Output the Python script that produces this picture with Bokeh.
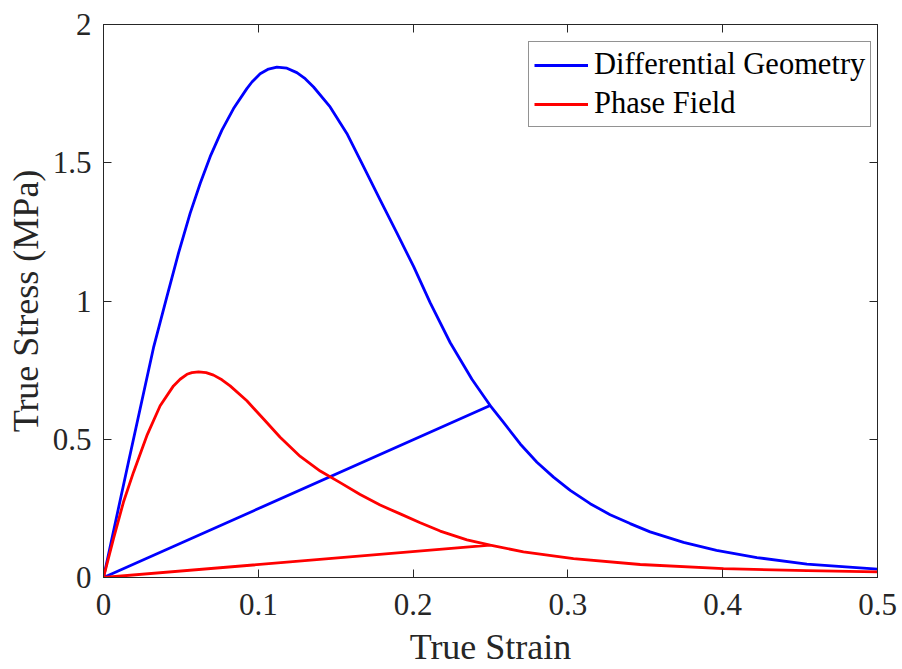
from bokeh.plotting import figure
from bokeh.models import (Range1d, LinearAxis, FixedTicker, Legend, LegendItem,
                          CustomLabelingPolicy)
from bokeh.embed import file_html
from bokeh.resources import INLINE

# ---- data ----
# Differential Geometry: loading curve; at index dg_unload_index the sample is
# unloaded to the origin and reloaded before the curve continues.
dg_strain = [0.0, 0.0161, 0.0323, 0.041, 0.0485, 0.056, 0.0625, 0.0689, 0.0765, 0.084,
             0.0926, 0.0959, 0.1012, 0.1066, 0.112, 0.1185, 0.1249, 0.1303, 0.1357, 0.1464,
             0.1572, 0.168, 0.1787, 0.1895, 0.2003, 0.211, 0.224, 0.238, 0.2498,
             0.2584, 0.2692, 0.280, 0.2907, 0.3015, 0.3144, 0.3273, 0.3402, 0.3531,
             0.3747, 0.396, 0.4221, 0.4544, 0.5]
dg_stress = [0.0, 0.417, 0.831, 1.017, 1.174, 1.318, 1.426, 1.522, 1.618, 1.696,
             1.768, 1.792, 1.822, 1.839, 1.846, 1.842, 1.826, 1.804, 1.774, 1.702,
             1.606, 1.486, 1.366, 1.246, 1.125, 0.994, 0.849, 0.717, 0.622,
             0.561, 0.483, 0.417, 0.363, 0.315, 0.267, 0.227, 0.195, 0.165,
             0.127, 0.098, 0.072, 0.048, 0.030]
dg_unload_index = 28

pf_strain = [0.0, 0.0065, 0.0129, 0.0194, 0.028, 0.0366, 0.0452, 0.0495, 0.0539, 0.0571,
             0.0614, 0.0663, 0.0711, 0.0765, 0.0818, 0.0926, 0.1034, 0.1141, 0.1271, 0.14,
             0.1529, 0.1658, 0.1787, 0.1917, 0.2046, 0.2175, 0.2348, 0.2498,
             0.2713, 0.3036, 0.3467, 0.4005, 0.4544, 0.5]
pf_stress = [0.0, 0.141, 0.273, 0.381, 0.513, 0.621, 0.693, 0.717, 0.735, 0.741,
             0.744, 0.741, 0.732, 0.715, 0.693, 0.639, 0.573, 0.507, 0.438, 0.385,
             0.343, 0.300, 0.262, 0.230, 0.198, 0.168, 0.136, 0.117,
             0.093, 0.068, 0.047, 0.032, 0.025, 0.020]
pf_unload_index = 27

x_ticks = [0, 0.1, 0.2, 0.3, 0.4, 0.5]
y_ticks = [0, 0.5, 1, 1.5, 2]
x_tick_labels = ["0", "0.1", "0.2", "0.3", "0.4", "0.5"]
y_tick_labels = ["0", "0.5", "1", "1.5", "2"]
x_label = "True Strain"
y_label = "True Stress (MPa)"
names = ["Differential Geometry", "Phase Field"]
colors = ["#0000FF", "#FF0000"]


def path(xs, ys, k):
    # loading curve up to index k, unload to origin, reload, continue
    px = xs[:k + 1] + [0.0, xs[k]] + xs[k + 1:]
    py = ys[:k + 1] + [0.0, ys[k]] + ys[k + 1:]
    return px, py


FONT = "Liberation Serif"
AX = "#262626"

p = figure(width=902, height=669, output_backend="svg", toolbar_location=None,
           x_range=Range1d(0, 0.5), y_range=Range1d(0, 2),
           min_border_left=103, min_border_right=25, min_border_top=24, min_border_bottom=90)
p.background_fill_color = "white"
p.border_fill_color = "white"
p.grid.visible = False
p.outline_line_color = AX
p.outline_line_width = 1

lines = []
for (xs, ys, k), c in zip([(dg_strain, dg_stress, dg_unload_index),
                           (pf_strain, pf_stress, pf_unload_index)], colors):
    px, py = path(xs, ys, k)
    r = p.line(px, py, line_color=c, line_width=2.8, line_join="round")
    lines.append(r)

no_labels = CustomLabelingPolicy(code="""
for (let i = 0; i < indices.size; i++) { indices.unset(i) }
return indices
""")


def style_axis(ax, ticks, labels=None):
    ax.ticker = FixedTicker(ticks=ticks)
    ax.axis_line_color = AX
    ax.axis_line_width = 1
    ax.major_tick_line_color = AX
    ax.major_tick_in = 8
    ax.major_tick_out = 0
    ax.minor_tick_line_color = None
    ax.major_label_text_font = FONT
    ax.major_label_text_color = AX
    ax.axis_label_text_font = FONT
    ax.axis_label_text_color = AX
    ax.axis_label_text_font_style = "normal"
    if labels is not None:
        ax.major_label_overrides = {t: s for t, s in zip(ticks, labels)}
        ax.major_label_text_font_size = "31px"
        ax.axis_label_text_font_size = "36px"
    else:
        ax.major_label_policy = no_labels
        ax.major_label_text_font_size = "10px"
        ax.major_label_standoff = 0


style_axis(p.xaxis[0], x_ticks, x_tick_labels)
style_axis(p.yaxis[0], y_ticks, y_tick_labels)
p.xaxis[0].axis_label = x_label
p.yaxis[0].axis_label = y_label
p.xaxis[0].major_label_standoff = 16
p.xaxis[0].axis_label_standoff = 9
p.yaxis[0].major_label_standoff = 12
p.yaxis[0].axis_label_standoff = 4

top = LinearAxis()
style_axis(top, x_ticks)
p.add_layout(top, "above")
right = LinearAxis()
style_axis(right, y_ticks)
p.add_layout(right, "right")

legend = Legend(items=[LegendItem(label=n, renderers=[r]) for n, r in zip(names, lines)],
                location=(425, 450))
legend.label_text_font = FONT
legend.label_text_font_size = "30.5px"
legend.label_text_color = "black"
legend.border_line_color = AX
legend.border_line_width = 1
legend.background_fill_color = "white"
legend.background_fill_alpha = 1
legend.padding = 5
legend.spacing = 4
legend.label_height = 30
legend.glyph_height = 30
legend.glyph_width = 54
legend.label_standoff = 6
legend.margin = 0
p.add_layout(legend, "center")

open("out.html", "w").write(file_html(p, INLINE))
